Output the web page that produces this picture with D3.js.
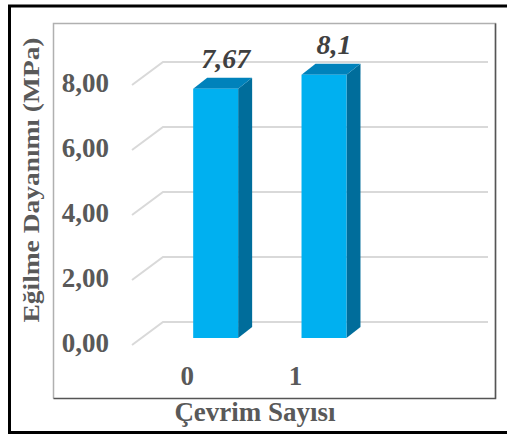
<!DOCTYPE html>
<html>
<head>
<meta charset="utf-8">
<script src="https://cdn.jsdelivr.net/npm/d3@7"></script>
<style>
  body { margin: 0; background: #fff; }
  svg text { font-family: "Times New Roman", "Liberation Serif", Tinos, "DejaVu Serif", serif; font-weight: bold; }
</style>
</head>
<body>
<div class="vis"></div>
<script>
//Width and height
var w = 507;
var h = 434;

// data
var categories = ["0", "1"];
var values = [7.67, 8.1];
var valueLabels = ["7,67", "8,1"];
var yTicks = [0, 2, 4, 6, 8];
var xTitle = "Çevrim Sayısı";
var yTitle = "Eğilme Dayanımı (MPa)";

// plot box (back wall) and 3d depth
var back = {left: 163, right: 488, bottom: 322, top: 62};
var depth = {dx: -31, dy: 23};     // back wall -> front edge of floor
var barShift = {dx: -1.5, dy: 16}; // back wall -> bar front face
var barDepth = {dx: 14, dy: -11};  // bar front face -> bar back face

var formatter = function(d) { return d3.format(".2f")(d).replace(".", ","); };

var svg = d3.select(".vis")
    .append("svg")
    .attr("width", w)
    .attr("height", h);

// black frame round the figure (no right side)
svg.append("path")
    .attr("d", "M" + w + ",6 H9.5 V432.5 H" + w)
    .attr("fill", "none")
    .attr("stroke", "#000")
    .attr("stroke-width", 3);

// chart area border
svg.append("path")
    .attr("d", "M495.5,398.5 V23.5 H53.5 V398.5")
    .attr("fill", "none")
    .attr("stroke", "#b0b0b0")
    .attr("stroke-width", 1.5);
svg.append("path")
    .attr("d", "M53.5,398.5 H495.5 V23.5")
    .attr("fill", "none")
    .attr("stroke", "#555")
    .attr("stroke-width", 1.5);

// scales - 3 slots on the category axis, only 2 used
var xScale = d3.scaleBand()
    .domain(categories)
    .range([back.left, back.left + (back.right - back.left) * 2 / 3]);

var yScale = d3.scaleLinear()
    .domain([0, 8])
    .range([back.bottom, back.top]);

// gridlines: side wall diagonal + back wall line
svg.append("g")
    .selectAll("path")
    .data(yTicks)
    .enter()
    .append("path")
    .attr("d", function(d) {
        var y = yScale(d);
        return "M" + (back.left + depth.dx) + "," + (y + depth.dy) +
               " L" + back.left + "," + y + " H" + back.right;
    })
    .attr("fill", "none")
    .attr("stroke", "#d9d9d9")
    .attr("stroke-width", 2);

// y tick labels sit on the front edge
svg.append("g")
    .selectAll("text")
    .data(yTicks)
    .enter()
    .append("text")
    .attr("x", 109)
    .attr("y", function(d) { return yScale(d) + depth.dy + 1; })
    .attr("text-anchor", "end")
    .attr("dominant-baseline", "middle")
    .style("font-size", "27px")
    .style("fill", "#595959")
    .text(formatter);

// 3d bars
var barW = xScale.bandwidth() * 0.415;
var bars = svg.append("g")
    .selectAll("g")
    .data(categories)
    .enter()
    .append("g");

function frontX(d) { return xScale(d) + xScale.bandwidth() / 2 + barShift.dx - barW / 2; }
function frontY(v) { return yScale(v) + barShift.dy; }

// side face
bars.append("path")
    .attr("d", function(d, i) {
        var x = frontX(d) + barW, y0 = frontY(0), y1 = frontY(values[i]);
        return "M" + x + "," + y0 + " L" + x + "," + y1 +
               " l" + barDepth.dx + "," + barDepth.dy +
               " L" + (x + barDepth.dx) + "," + (y0 + barDepth.dy) + "Z";
    })
    .attr("fill", "#006d9b");

// top face
bars.append("path")
    .attr("d", function(d, i) {
        var x = frontX(d), y = frontY(values[i]);
        return "M" + x + "," + y + " l" + barDepth.dx + "," + barDepth.dy +
               " h" + barW + " l" + (-barDepth.dx) + "," + (-barDepth.dy) + "Z";
    })
    .attr("fill", "#0082bb");

// front face
bars.append("rect")
    .attr("x", frontX)
    .attr("y", function(d, i) { return frontY(values[i]); })
    .attr("width", barW)
    .attr("height", function(d, i) { return frontY(0) - frontY(values[i]); })
    .attr("fill", "#00b0f0");

// data labels
bars.append("text")
    .attr("x", function(d) { return frontX(d) + barW / 2 + 10; })
    .attr("y", function(d, i) { return frontY(values[i]) + barDepth.dy - 10; })
    .attr("text-anchor", "middle")
    .style("font-size", "28px")
    .style("font-style", "italic")
    .style("fill", "#404040")
    .text(function(d, i) { return valueLabels[i]; });

// x tick labels
svg.append("g")
    .selectAll("text")
    .data(categories)
    .enter()
    .append("text")
    .attr("x", function(d) { return xScale(d) + xScale.bandwidth() / 2 - 30; })
    .attr("y", yScale(0) + depth.dy + 40)
    .attr("text-anchor", "middle")
    .style("font-size", "27px")
    .style("fill", "#595959")
    .text(function(d) { return d; });

// axis titles
svg.append("text")
    .attr("x", 255)
    .attr("y", 421)
    .attr("text-anchor", "middle")
    .style("font-size", "27px")
    .style("fill", "#595959")
    .text(xTitle);

svg.append("text")
    .attr("transform", "translate(39,180) rotate(-90)")
    .attr("text-anchor", "middle")
    .attr("textLength", 285)
    .attr("lengthAdjust", "spacingAndGlyphs")
    .style("font-size", "23px")
    .style("fill", "#595959")
    .text(yTitle);
</script>
</body>
</html>
